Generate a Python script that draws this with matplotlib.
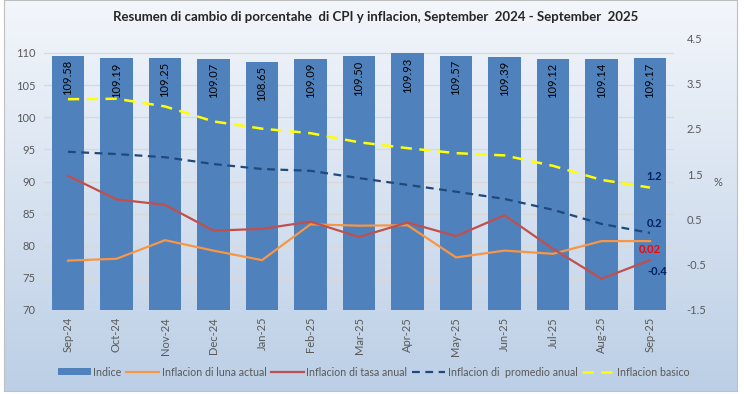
import matplotlib
matplotlib.use('Agg')
import matplotlib.pyplot as plt
import numpy as np
from matplotlib.lines import Line2D
from matplotlib.patches import Patch, Rectangle

months = ['Sep-24', 'Oct-24', 'Nov-24', 'Dec-24', 'Jan-25', 'Feb-25', 'Mar-25',
          'Apr-25', 'May-25', 'Jun-25', 'Jul-25', 'Aug-25', 'Sep-25']
indice = [109.58, 109.19, 109.25, 109.07, 108.65, 109.09, 109.50,
          109.93, 109.57, 109.39, 109.12, 109.14, 109.17]
luna_actual = [-0.41, -0.37, 0.04, -0.19, -0.40, 0.39, 0.36,
               0.37, -0.34, -0.19, -0.26, 0.02, 0.02]
tasa_anual = [1.46, 0.94, 0.82, 0.25, 0.29, 0.45, 0.11,
              0.43, 0.13, 0.59, -0.15, -0.81, -0.4]
promedio_anual = [1.99, 1.94, 1.87, 1.72, 1.61, 1.57, 1.41,
                  1.26, 1.11, 0.95, 0.71, 0.40, 0.2]
basico = [3.15, 3.16, 2.99, 2.66, 2.50, 2.40, 2.20,
          2.07, 1.96, 1.91, 1.68, 1.37, 1.2]

title = 'Resumen di cambio di porcentahe  di CPI y inflacion, September  2024 - September  2025'
legend_labels = ['Indice', 'Inflacion di luna actual', 'Inflacion di tasa anual',
                 'Inflacion di  promedio anual', 'Inflacion basico']

plt.rcParams['font.family'] = ['Lato', 'DejaVu Sans']

W, H = 744, 394
fig = plt.figure(figsize=(W / 100, H / 100), dpi=100)
fig.patch.set_facecolor('white')

# chart area gradient background
bg = fig.add_axes([4 / W, 3 / H, 733 / W, 391 / H], zorder=-5)
top = np.array([243, 246, 251]) / 255
bot = np.array([188, 207, 230]) / 255
t = np.linspace(0, 1, 256)[:, None]
grad = top[None, :] * (1 - t) + bot[None, :] * t
bg.imshow(grad[:, None, :], aspect='auto', extent=[0, 1, 0, 1])
bg.set_xticks([]); bg.set_yticks([])
for s in bg.spines.values():
    s.set_color('#BFBFBF'); s.set_linewidth(0.8)

ax = fig.add_axes([43.75 / W, 84 / H, 630.5 / W, 272 / H])
ax.set_facecolor('none')
x = np.arange(len(months))
bar_color = '#4F81BD'
bars = ax.bar(x, indice, width=0.66, color=bar_color, zorder=2)
ax.set_xlim(-0.5, len(months) - 0.5)
ax.set_ylim(70, 70 + 272 / 6.425)
ax.set_yticks(np.arange(70, 111, 5))
ax.yaxis.grid(True, color='#D9D9D9', lw=0.9, zorder=0)
ax.set_axisbelow(True)
for s in ax.spines.values():
    s.set_visible(False)
ax.tick_params(axis='both', length=0, labelsize=8, colors='#595959')
ax.tick_params(axis='y', pad=6)
ax.tick_params(axis='x', pad=5)
ax.set_xticks(x)
ax.set_xticklabels(months, rotation=90)

for xi, v in zip(x, indice):
    ax.annotate(f'{v:.2f}', (xi, v), xytext=(0, -3), textcoords='offset points',
                rotation=90, ha='center', va='top', fontsize=8, color='black', zorder=3)

ax2 = ax.twinx()
ax2.set_ylim(-1.5, 4.5)
rt = np.arange(-1.5, 4.6, 1.0)
ax2.set_yticks(rt)
ax2.set_yticklabels([f'{v:g}' for v in rt])
for s in ax2.spines.values():
    s.set_visible(False)
ax2.tick_params(axis='y', length=0, labelsize=8, colors='#595959', pad=9)

c_or = '#F79646'
c_red = '#C0504D'
c_dk = '#1F497D'
c_yel = '#FFFF00'
ax2.plot(x, luna_actual, color=c_or, lw=1.6, zorder=4)
ax2.plot(x, tasa_anual, color=c_red, lw=1.6, zorder=4)
ax2.plot(x, promedio_anual, color=c_dk, lw=1.6, dashes=(3.5, 2.5), zorder=4)
ax2.plot(x, basico, color=c_yel, lw=1.8, dashes=(4.5, 3), zorder=4)

lab_col = '#002060'
last = len(months) - 1
ax2.annotate(f'{basico[-1]:g}', (last, basico[-1]), xytext=(3, 8), textcoords='offset points',
             ha='center', va='center', fontsize=8, fontweight='bold', color=lab_col, zorder=5)
ax2.annotate(f'{promedio_anual[-1]:g}', (last, promedio_anual[-1]), xytext=(3, 7), textcoords='offset points',
             ha='center', va='center', fontsize=8, fontweight='bold', color=lab_col, zorder=5)
ax2.annotate(f'{luna_actual[-1]:g}', (last, luna_actual[-1]), xytext=(0, -6), textcoords='offset points',
             ha='center', va='center', fontsize=8, fontweight='bold', color='#FF0000', zorder=5)
ax2.annotate(f'{tasa_anual[-1]:g}', (last, tasa_anual[-1]), xytext=(5, -8), textcoords='offset points',
             ha='center', va='center', fontsize=8, fontweight='bold', color=lab_col, zorder=5)

fig.text(718 / W, 1 - 183 / H, '%', fontsize=8, color='#595959', ha='center', va='center')
fig.text(376 / W, 1 - 17 / H, title, fontsize=9.5, fontweight='bold', color='#262626',
         ha='center', va='center')

handles = [Patch(facecolor=bar_color, edgecolor='none'),
           Line2D([], [], color=c_or, lw=1.6),
           Line2D([], [], color=c_red, lw=1.6),
           Line2D([], [], color=c_dk, lw=1.6, dashes=(3.5, 2.5)),
           Line2D([], [], color=c_yel, lw=1.8, dashes=(4.5, 3))]
leg = fig.legend(handles, legend_labels, loc='center', bbox_to_anchor=(374 / W, 1 - 372 / H),
                 ncol=5, frameon=False, fontsize=7.7, handlelength=3.1, handleheight=0.6,
                 handletextpad=0.2, columnspacing=0.45, labelcolor='#595959')

fig.savefig('out.png', dpi=100)
